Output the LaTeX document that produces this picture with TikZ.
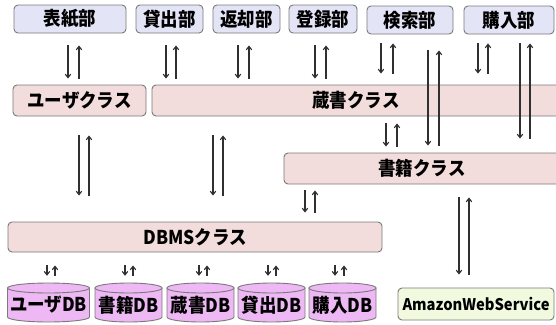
\documentclass[tikz,border=0pt]{standalone}
\usepackage{fontspec}
\newfontfamily\jp[FakeStretch=0.92]{Noto Sans CJK JP}
\usetikzlibrary{arrows.meta}
\definecolor{boxline}{HTML}{7A7A7A}
\definecolor{topfill}{HTML}{E4E4F7}
\definecolor{clsfill}{HTML}{F2DCDC}
\definecolor{dbfill}{HTML}{EDB8F4}
\definecolor{awsfill}{HTML}{F1FADF}
\definecolor{arrcol}{HTML}{303030}
\newcommand\arrpair[6]{%
  \draw[arr, shorten <=#5, shorten >=#6] (#1.south -| #3,0) -- (#2.north -| #3,0);
  \draw[arr, shorten <=#6, shorten >=#5] (#2.north -| #4,0) -- (#1.south -| #4,0);}
\begin{document}
\begin{tikzpicture}[x=1pt,y=-1pt,
  box/.style={draw=boxline, line width=0.9pt, rounded corners=4pt, inner sep=0pt,
    font=\jp\bfseries\fontsize{19}{19}\selectfont},
  topbox/.style={box, fill=topfill, minimum height=28pt},
  clsbox/.style={box, fill=clsfill, minimum height=31pt},
  awsbox/.style={box, fill=awsfill, minimum height=32pt, font=\jp\bfseries\fontsize{16}{16}\selectfont},
  dblabel/.style={inner sep=0pt, minimum height=44pt, font=\jp\bfseries\fontsize{19}{19}\selectfont},
  dbshape/.style={draw=boxline, line width=0.9pt, fill=dbfill},
  arr/.style={-{Straight Barb[length=3.5pt,width=5.5pt]}, line width=1.1pt, draw=arrcol},
]
\useasboundingbox (0,0) rectangle (556,324);
\clip (0,0) rectangle (556,324);
\fill[white] (0,0) rectangle (556,324);

% top row
\node[topbox, minimum width=112pt] (hyoshi) at (70,19) {表紙部};
\node[topbox, minimum width=67pt] (kashi) at (169.5,19) {貸出部};
\node[topbox, minimum width=67pt] (henkyaku) at (246.5,19) {返却部};
\node[topbox, minimum width=68pt] (toroku) at (323,19) {登録部};
\node[topbox, minimum width=86pt] (kensaku) at (410,20) {検索部};
\node[topbox, minimum width=90pt] (konyu) at (509,20) {購入部};

% class row
\node[clsbox, minimum width=133pt] (user) at (79.5,100.5) {ユーザクラス};
\node[clsbox, minimum width=408pt] (zosho) at (356,100.5) {蔵書クラス};
\node[clsbox, minimum width=276pt] (shoseki) at (422,168.5) {書籍クラス};
\node[clsbox, minimum width=374pt, minimum height=30pt] (dbms) at (195,237) {DBMSクラス};

% Amazon
\node[awsbox, minimum width=156pt] (aws) at (476,304) {AmazonWebService};

% databases
\foreach \nm/\cx/\hw/\lab in {userdb/48.5/41/ユーザDB, shosekidb/128.5/33.5/書籍DB,
  zoshodb/200.5/33.5/蔵書DB, kashidb/271.5/33.5/貸出DB, konyudb/342.5/33.5/購入DB}{
  \path[dbshape] (\cx-\hw,288) -- (\cx-\hw,317)
     arc[start angle=180, end angle=360, x radius=\hw pt, y radius=5pt] -- (\cx+\hw,288) -- cycle;
  \draw[dbshape] (\cx,288) ellipse[x radius=\hw pt, y radius=5pt];
  \node[dblabel, minimum width=2*\hw pt] (\nm) at (\cx,305) {\lab};
}

% arrows top row -> class row
\arrpair{hyoshi}{user}{68}{79}{12pt}{6pt}
\arrpair{kashi}{zosho}{166}{176}{12pt}{6pt}
\arrpair{henkyaku}{zosho}{238}{249}{12pt}{6pt}
\arrpair{toroku}{zosho}{315}{326}{12pt}{6pt}
\arrpair{kensaku}{zosho}{381}{393}{9pt}{11pt}
\arrpair{konyu}{zosho}{478}{488}{9pt}{11pt}
% long arrows
\arrpair{kensaku}{shoseki}{428}{439}{16pt}{7pt}
\arrpair{konyu}{shoseki}{520}{530}{9pt}{14pt}
% class -> dbms
\arrpair{user}{dbms}{79}{89}{19pt}{26pt}
\arrpair{zosho}{dbms}{213}{223}{19pt}{26pt}
\arrpair{zosho}{shoseki}{386}{397}{7pt}{6pt}
\arrpair{shoseki}{dbms}{305}{315}{6pt}{9pt}
\arrpair{shoseki}{aws}{459}{469}{13pt}{13pt}
% dbms -> dbs
\arrpair{dbms}{userdb}{47}{55}{13pt}{7pt}
\arrpair{dbms}{shosekidb}{125}{133}{13pt}{7pt}
\arrpair{dbms}{zoshodb}{199}{207}{13pt}{7pt}
\arrpair{dbms}{kashidb}{268}{276}{13pt}{7pt}
\arrpair{dbms}{konyudb}{335}{344}{13pt}{7pt}
\end{tikzpicture}
\end{document}
